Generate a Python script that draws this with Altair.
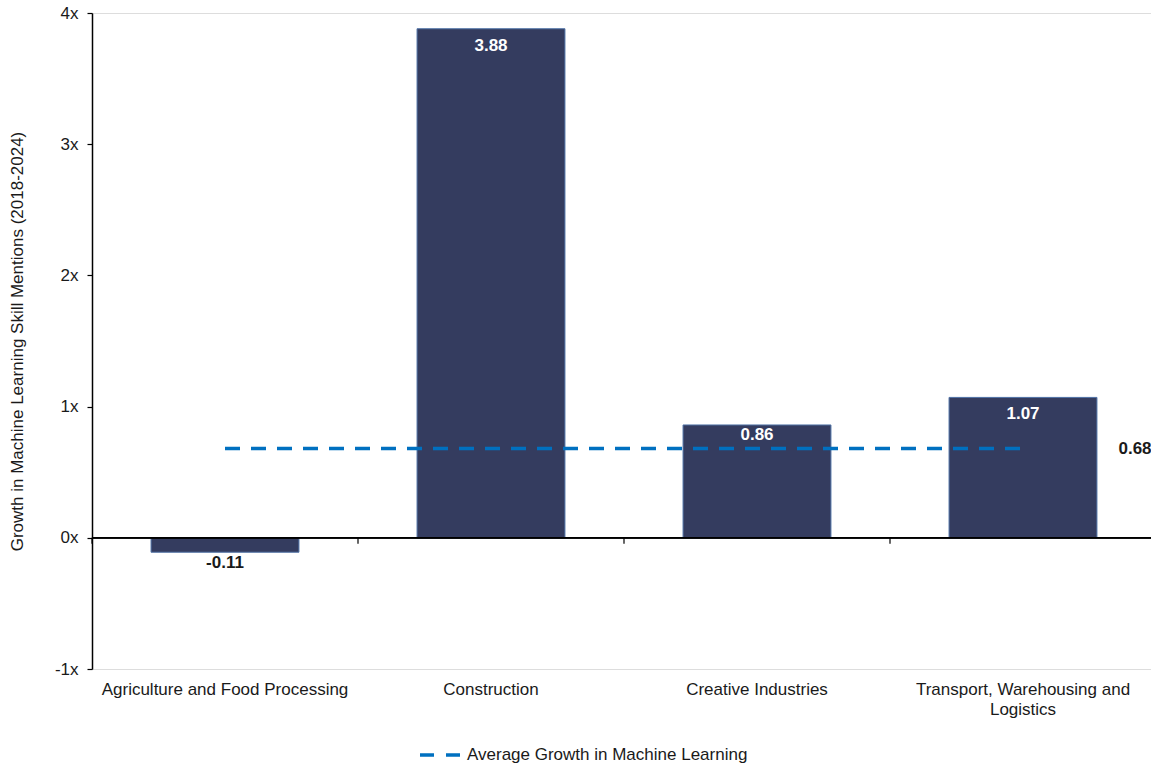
import altair as alt
import pandas as pd

categories = [
    "Agriculture and Food Processing",
    "Construction",
    "Creative Industries",
    "Transport, Warehousing and Logistics",
]
growth = [-0.11, 3.88, 0.86, 1.07]
average = [0.68, 0.68, 0.68, 0.68]
series_name = "Average Growth in Machine Learning"
y_ticks = [-1, 0, 1, 2, 3, 4]

df = pd.DataFrame({"cat": categories, "value": growth, "avg": average})
df["series"] = series_name
df["near"] = (df["value"] - df["avg"]).abs() < 0.3

FONT = "Liberation Sans"
FS = 17
BAR = "#343C5F"
LINE = "#0070C0"
TXT = "#1a1a1a"

xenc = alt.X(
    "cat:N",
    sort=categories,
    title=None,
    scale=alt.Scale(range=[0, 1064], paddingInner=0, paddingOuter=0),
    axis=alt.Axis(
        domain=False,
        ticks=False,
        tickSize=0,
        labelPadding=12,
        labelAngle=0,
        labelFontSize=FS,
        labelColor=TXT,
        labelFont=FONT,
        labelBaseline="top",
        labelLineHeight=20,
        labelLimit=400,
        labelExpr="datum.label == 'Transport, Warehousing and Logistics' ? ['Transport, Warehousing and', 'Logistics'] : datum.label",
    ),
)

yscale = alt.Scale(domain=[-1, 4], nice=False, zero=False)

base = alt.Chart(df).transform_calculate(
    vlabel="replace(format(datum.value, '.2f'), '\u2212', '-')",
    alabel="format(datum.avg, '.2f')",
)

bars = base.mark_bar(
    width=alt.RelativeBandSize(0.556), color=BAR, stroke="#4F72A6", strokeWidth=1
).encode(
    x=xenc,
    y=alt.Y(
        "value:Q",
        scale=yscale,
        title="Growth in Machine Learning Skill Mentions (2018-2024)",
        axis=alt.Axis(
            values=y_ticks,
            labelExpr="datum.value + 'x'",
            grid=False,
            domainColor="black",
            domainWidth=1.5,
            tickColor="black",
            tickSize=5,
            tickWidth=1.2,
            labelPadding=9,
            labelFontSize=FS,
            labelColor=TXT,
            labelFont=FONT,
            titleFont=FONT,
            titleFontSize=FS,
            titleFontWeight="normal",
            titleColor=TXT,
            titleX=-75,
            titleY=328,
            titleAngle=-90,
            titleAlign="center",
            titleBaseline="middle",
        ),
    ),
    y2=alt.datum(0),
)

zero_rule = alt.Chart(df).mark_rule(color="black", strokeWidth=1.5).encode(y=alt.datum(0))

cat_ticks = base.mark_rule(color="black", strokeWidth=1.2).encode(
    x=alt.X("cat:N", sort=categories, bandPosition=0),
    y=alt.datum(0),
    y2=alt.datum(-0.045),
)

def value_text(filt, color, dy):
    return base.transform_filter(filt).mark_text(
        color=color, fontWeight="bold", fontSize=FS, font=FONT, baseline="middle", dy=dy
    ).encode(
        x=alt.X("cat:N", sort=categories),
        y=alt.Y("value:Q", scale=yscale),
        text="vlabel:N",
    )

pos_far = value_text("datum.value > 0 && !datum.near", "white", 17)
pos_near = value_text("datum.value > 0 && datum.near", "white", 10)
neg = value_text("datum.value < 0", TXT, 11)

line = base.mark_line(strokeDash=[15, 11], strokeWidth=3.5).encode(
    x=alt.X("cat:N", sort=categories),
    y=alt.Y("avg:Q", scale=yscale),
    color=alt.Color(
        "series:N",
        scale=alt.Scale(domain=[series_name], range=[LINE]),
        title=None,
        legend=alt.Legend(
            orient="none",
            legendX=326,
            legendY=720,
            padding=0,
            symbolType="stroke",
            symbolSize=1600,
            symbolStrokeWidth=3.5,
            symbolDash=[14, 12],
            symbolOffset=0,
            labelOffset=5,
            labelFontSize=FS,
            labelFont=FONT,
            labelColor=TXT,
            labelLimit=400,
        ),
    ),
)

avg_label = base.transform_filter(
    alt.datum.cat == categories[-1]
).mark_text(color=TXT, fontWeight="bold", fontSize=FS, font=FONT, baseline="middle", dx=112).encode(
    x=alt.X("cat:N", sort=categories),
    y=alt.Y("avg:Q", scale=yscale),
    text="alabel:N",
)

chart = (
    alt.layer(bars, zero_rule, cat_ticks, line, pos_far, pos_near, neg, avg_label)
    .properties(
        width=1059,
        height=656,
        autosize=alt.AutoSizeParams(type="none"),
        padding={"left": 92, "top": 13, "right": 0, "bottom": 100},
    )
    .configure_view(stroke=None)
    .configure(background="white")
)

chart.save("out.html", embed_options={"renderer": "svg", "actions": False})
